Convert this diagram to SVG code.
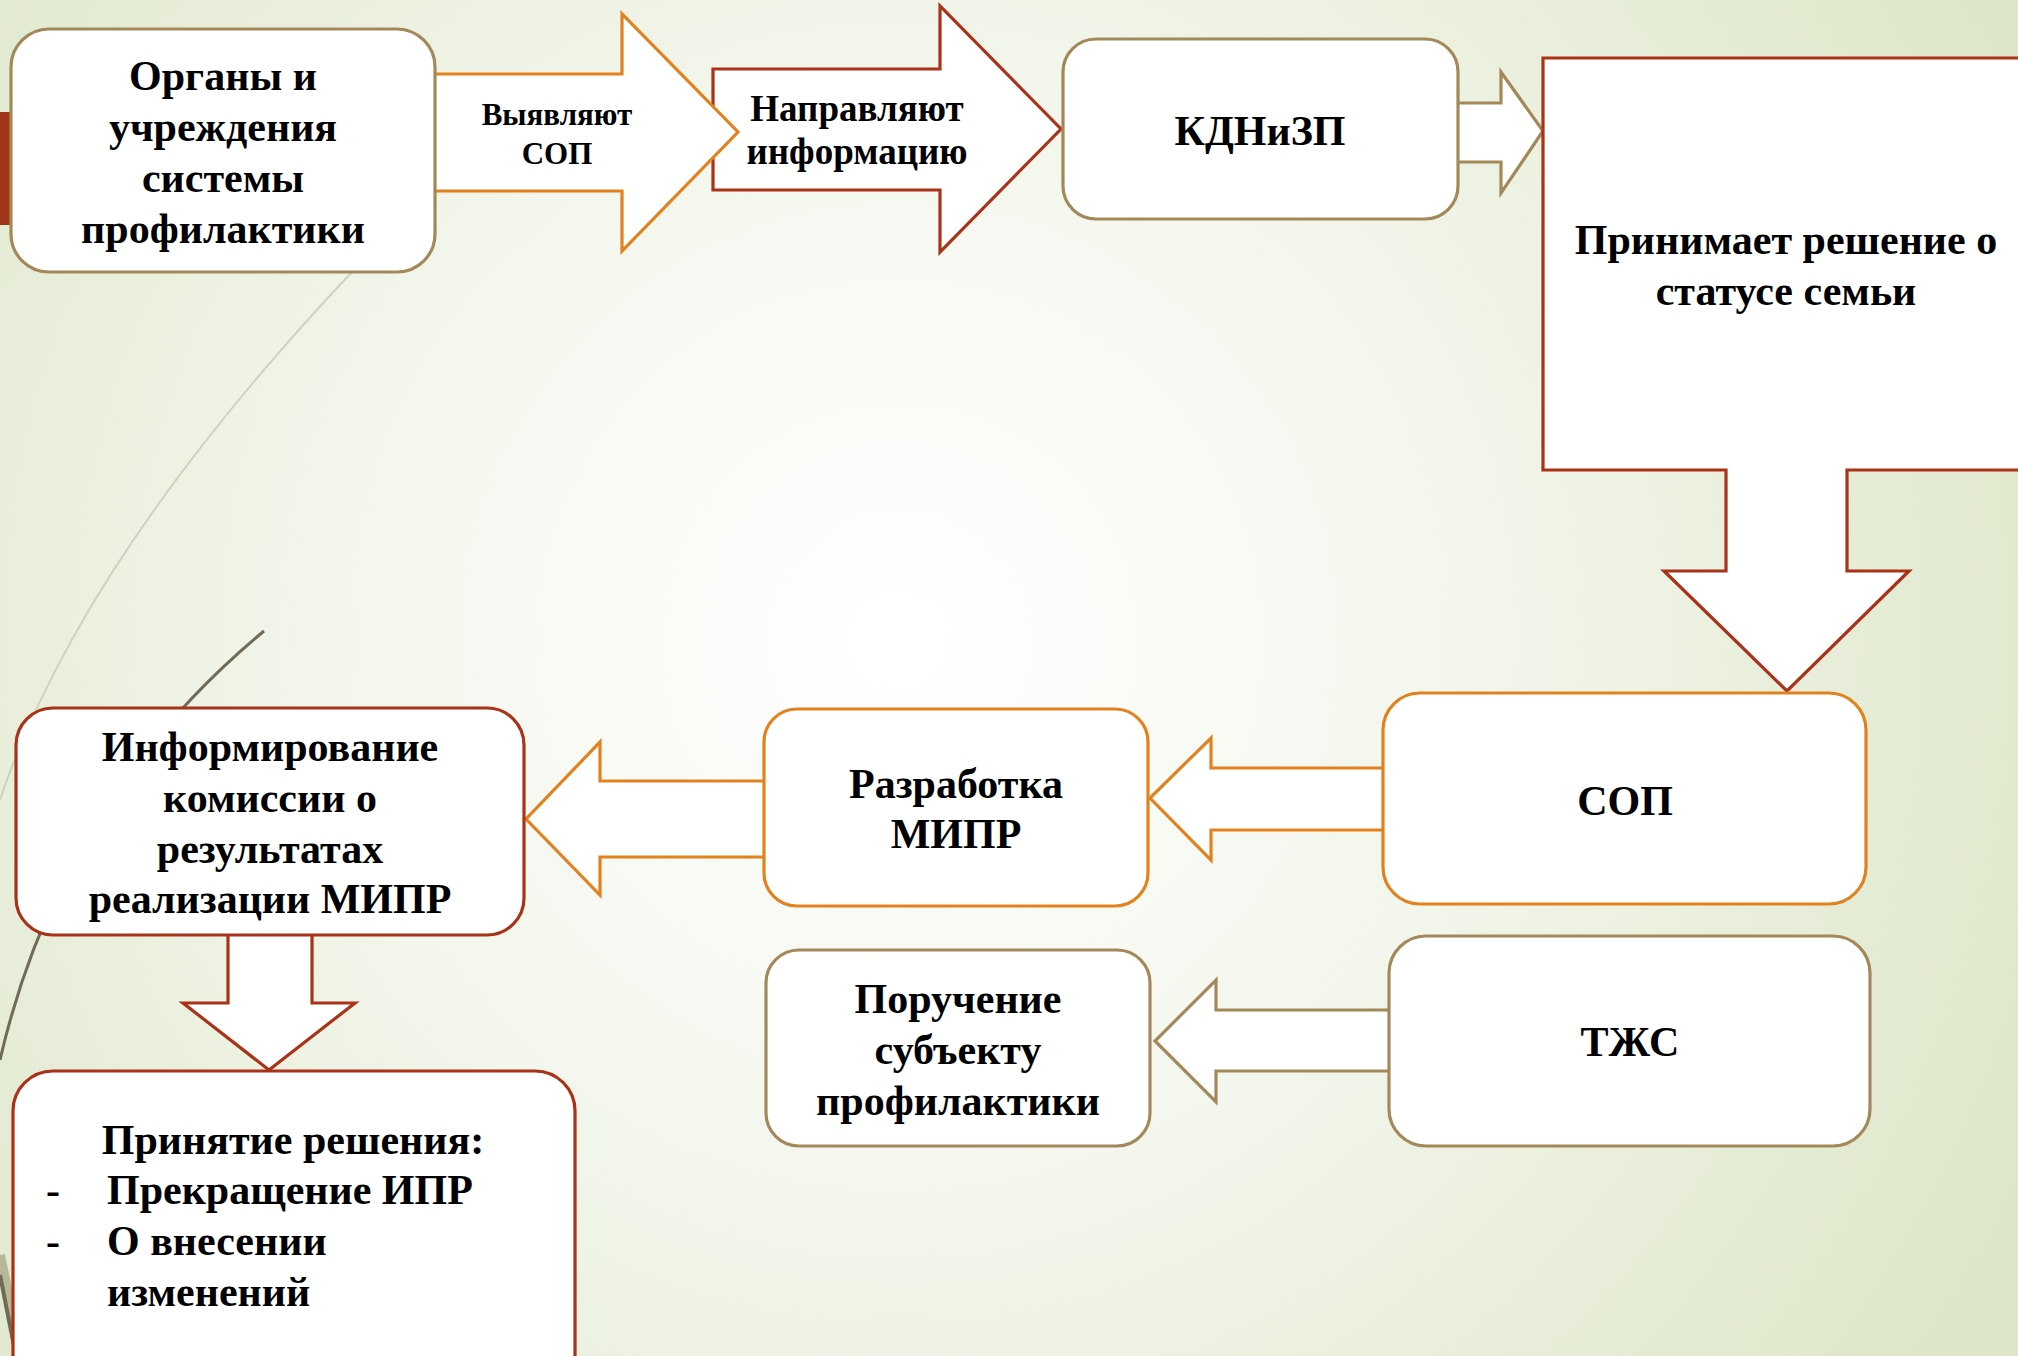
<svg xmlns="http://www.w3.org/2000/svg" width="2018" height="1356" viewBox="0 0 2018 1356">
<defs>
<radialGradient id="bg" cx="900" cy="640" r="1250" gradientUnits="userSpaceOnUse">
<stop offset="0" stop-color="#ffffff"/>
<stop offset="0.45" stop-color="#f3f6ec"/>
<stop offset="1" stop-color="#dde6c8"/>
</radialGradient>
<style>
.box{fill:#ffffff;stroke-width:3.2}
.or{stroke:#e2821e}
.rd{stroke:#a93318}
.tn{stroke:#a3895a}
.arr{fill:#ffffff;stroke-width:3.2;stroke-linejoin:miter}
.t{font-family:"Liberation Serif","Times New Roman",serif;font-weight:bold;fill:#000000;text-anchor:middle}
.t42{font-size:42px}
</style>
</defs>
<rect x="0" y="0" width="2018" height="1356" fill="url(#bg)"/>
<g id="decor">
<rect x="0" y="112" width="11" height="113" fill="#a0351a"/>
<path d="M420 190 Q370 240 352 272 Q80 560 0 800" fill="none" stroke="#cdd3bd" stroke-width="2"/>
<path d="M264 631 Q60 800 0 1060" fill="none" stroke="#6f6b55" stroke-width="3"/>
<path d="M0 1255 Q10 1305 22 1356" fill="none" stroke="#b7b89a" stroke-width="10"/>
<path d="M0 1275 Q8 1315 16 1356" fill="none" stroke="#6f6b55" stroke-width="4"/>
</g>
<g id="connectors">
<path id="a_napr" class="arr rd" d="M713 69 L940 69 L940 6 L1061 129 L940 252 L940 190 L713 190 Z"/>
<path id="a_vyav" class="arr or" d="M420 74 L622 74 L622 14 L738 132 L622 251 L622 191 L420 191 Z"/>
<path id="a_kdn" class="arr tn" d="M1450 103 L1501 103 L1501 72 L1543 131 L1501 193 L1501 162 L1450 162 Z"/>
<path id="a_sop" class="arr or" d="M1390 768 L1211 768 L1211 738 L1150 798 L1211 860 L1211 830 L1390 830 Z"/>
<path id="a_tzs" class="arr tn" d="M1395 1010 L1216 1010 L1216 980 L1155 1041 L1216 1102 L1216 1071 L1395 1071 Z"/>
<path id="a_razr" class="arr or" d="M770 781 L600 781 L600 742 L526 819 L600 895 L600 857 L770 857 Z"/>
<path id="a_inf" class="arr rd" d="M228 925 L228 1003 L183 1003 L269 1070 L355 1003 L312 1003 L312 925 Z"/>
</g>
<g id="n_organy">
<rect class="box tn" x="11" y="29" width="424" height="243" rx="38"/>
<text class="t t42" x="223"><tspan x="223" y="90">Органы и</tspan><tspan x="223" y="141">учреждения</tspan><tspan x="223" y="192">системы</tspan><tspan x="223" y="243">профилактики</tspan></text>
</g>
<g id="l_vyav">
<text class="t" font-size="31" x="557"><tspan x="557" y="125">Выявляют</tspan><tspan x="557" y="164">СОП</tspan></text>
</g>
<g id="l_napr">
<text class="t" font-size="37" x="857"><tspan x="857" y="121">Направляют</tspan><tspan x="857" y="164">информацию</tspan></text>
</g>
<g id="n_kdn">
<rect class="box tn" x="1063" y="39" width="395" height="180" rx="33"/>
<text class="t t42" x="1260" y="145">КДНиЗП</text>
</g>
<g id="n_decision">
<path class="arr rd" d="M1543 58 L2040 58 L2040 470 L1847 470 L1847 571 L1909 571 L1787 691 L1664 571 L1726 571 L1726 470 L1543 470 Z"/>
<text class="t t42" x="1786"><tspan x="1786" y="254">Принимает решение о</tspan><tspan x="1786" y="305">статусе семьи</tspan></text>
</g>
<g id="n_sop">
<rect class="box or" x="1383" y="693" width="483" height="211" rx="37"/>
<text class="t t42" x="1625" y="815">СОП</text>
</g>
<g id="n_tzs">
<rect class="box tn" x="1389" y="936" width="481" height="210" rx="37"/>
<text class="t t42" x="1630" y="1056">ТЖС</text>
</g>
<g id="n_razr">
<rect class="box or" x="764" y="709" width="384" height="197" rx="33"/>
<text class="t t42" x="956"><tspan x="956" y="798">Разработка</tspan><tspan x="956" y="848">МИПР</tspan></text>
</g>
<g id="n_poruch">
<rect class="box tn" x="766" y="950" width="384" height="196" rx="33"/>
<text class="t t42" x="958"><tspan x="958" y="1013">Поручение</tspan><tspan x="958" y="1064">субъекту</tspan><tspan x="958" y="1115">профилактики</tspan></text>
</g>
<g id="n_inform">
<rect class="box rd" x="16" y="708" width="508" height="227" rx="37"/>
<text class="t t42" x="270"><tspan x="270" y="761">Информирование</tspan><tspan x="270" y="812">комиссии о</tspan><tspan x="270" y="863">результатах</tspan><tspan x="270" y="913">реализации МИПР</tspan></text>
</g>
<g id="n_prin">
<rect class="box rd" x="13" y="1071" width="562" height="330" rx="40"/>
<text class="t t42" x="293" y="1154">Принятие решения:</text>
<text class="t t42" x="53" y="1204">-</text>
<text class="t t42" x="107" y="1204" style="text-anchor:start">Прекращение ИПР</text>
<text class="t t42" x="53" y="1255">-</text>
<text class="t t42" x="107" y="1255" style="text-anchor:start">О внесении</text>
<text class="t t42" x="107" y="1306" style="text-anchor:start">изменений</text>
</g>
</svg>
